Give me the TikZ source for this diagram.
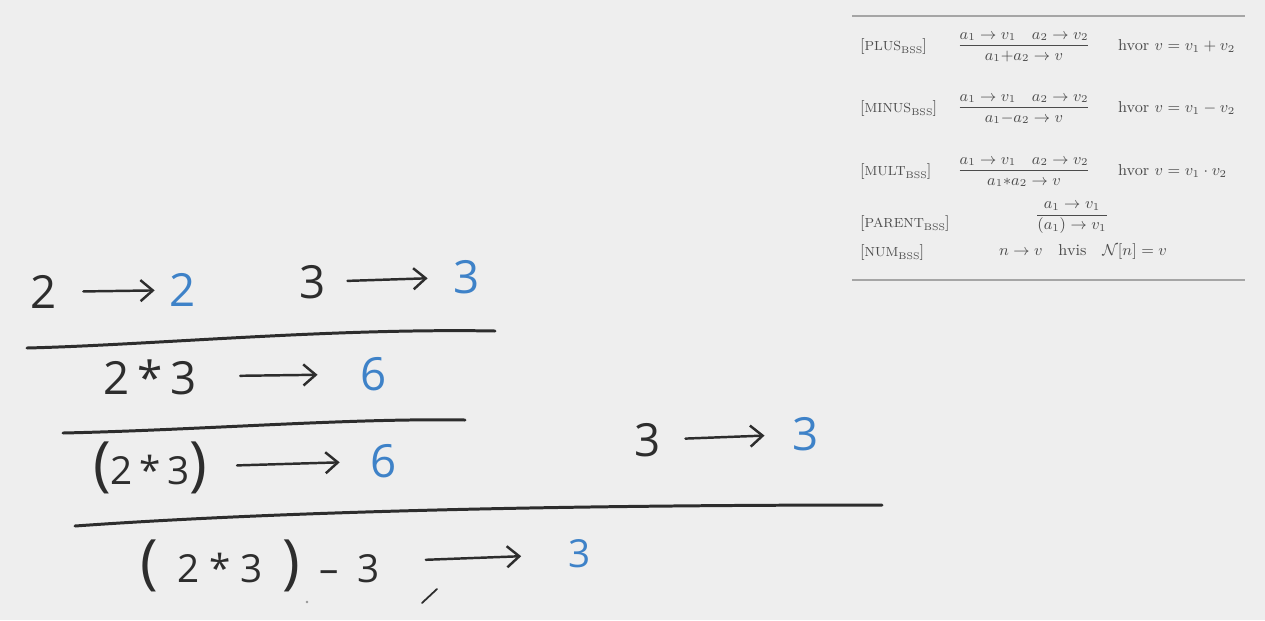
\documentclass[tikz,border=0pt]{standalone}
\usepackage{fontspec}
\usepackage{amsmath}
\newfontfamily\handfont{Open Sans}
\usetikzlibrary{arrows.meta, positioning}
\definecolor{ink}{RGB}{45,45,45}
\definecolor{handblue}{RGB}{62,130,200}
\definecolor{paper}{RGB}{238,238,238}
\definecolor{rulegray}{RGB}{165,165,165}
\newcommand{\bsslabel}[1]{[{\fontsize{7.5}{8}\selectfont #1\raisebox{-0.45ex}{\fontsize{5.5}{6}\selectfont BSS}}]}
\newcommand{\bigpar}[1]{{\fontsize{34}{34}\selectfont #1}}

\begin{document}
\begin{tikzpicture}[x=0.02cm, y=-0.02cm,
  expr/.style={font=\handfont\fontsize{26}{26}\selectfont, text=ink, inner sep=2pt},
  smallexpr/.style={expr, font=\handfont\fontsize{22}{22}\selectfont},
  val/.style={expr, text=handblue},
  eval/.style={draw=ink, line width=1.4pt, line cap=round, -{Straight Barb[length=7pt, width=12pt, line width=1.4pt]}},
  bar/.style={draw=ink, line width=1.7pt, line cap=round},
  rulename/.style={font=\fontsize{9}{10}\selectfont, text=ink!85, anchor=west, inner sep=1pt},
  premise/.style={font=\fontsize{9}{10}\selectfont, text=ink!85, inner sep=1pt}
]
  \useasboundingbox (0,0) rectangle (1265,620);
  \fill[paper] (0,0) rectangle (1265,620);

  % Rules table
  \draw[rulegray, line width=1.2pt] (852,16) -- (1245,16);
  \draw[rulegray, line width=1.2pt] (852,280) -- (1245,280);

  \node[rulename] (lplus) at (858,47) {\bsslabel{PLUS}};
  \node[premise] (fplus) at (1024,47) {$\dfrac{a_1 \to v_1 \quad a_2 \to v_2}{a_1{+}a_2 \to v}$};
  \node[premise, anchor=west] (cplus) at (1116,46) {hvor $v = v_1 + v_2$};

  \node[rulename] (lminus) at (858,109) {\bsslabel{MINUS}};
  \node[premise] (fminus) at (1024,109) {$\dfrac{a_1 \to v_1 \quad a_2 \to v_2}{a_1{-}a_2 \to v}$};
  \node[premise, anchor=west] (cminus) at (1116,108) {hvor $v = v_1 - v_2$};

  \node[rulename] (lmult) at (858,172) {\bsslabel{MULT}};
  \node[premise] (fmult) at (1024,172) {$\dfrac{a_1 \to v_1 \quad a_2 \to v_2}{a_1{\ast}a_2 \to v}$};
  \node[premise, anchor=west] (cmult) at (1116,171) {hvor $v = v_1 \cdot v_2$};

  \node[rulename] (lparent) at (858,224) {\bsslabel{PARENT}};
  \node[premise] (fparent) at (1072,218) {$\dfrac{a_1 \to v_1}{(a_1) \to v_1}$};

  \node[rulename] (lnum) at (858,253) {\bsslabel{NUM}};
  \node[premise] (fnum) at (1083,252) {$n \to v \quad \text{hvis} \quad \mathcal{N}[n] = v$};

  % Derivation: leaves
  \node[expr] (two) at (44,292) {2};
  \node[val] (twoval) at (183,290) {2};
  \node[expr] (three) at (313,282) {3};
  \node[val] (threeval) at (467,277) {3};
  \draw[eval, shorten <=12.8pt, shorten >=6.5pt] (two) -- (twoval);
  \draw[eval, shorten <=10pt, shorten >=12.8pt] (three) -- (threeval);

  \draw[bar] (27,348) .. controls (150,345) and (330,328) .. (495,331);

  % Multiplication
  \node[expr] (mult) at (150,377) {2\,*\,3};
  \node[val] (multval) at (374,374) {6};
  \draw[eval, shorten <=22.8pt, shorten >=22.5pt] (mult) -- (multval);

  \draw[bar] (63,433) .. controls (200,430) and (350,418) .. (465,420);

  % Parentheses
  \node[smallexpr] (paren) at (150,468) {\bigpar{(}2\,*\,3\bigpar{)}};
  \node[val] (parenval) at (384,461) {6};
  \draw[eval, shorten <=15pt, shorten >=15.6pt] (paren) -- (parenval);

  \node[expr] (threeb) at (648,440) {3};
  \node[val] (threebval) at (806,434) {3};
  \draw[eval, shorten <=11.7pt, shorten >=14pt] (threeb) -- (threebval);

  \draw[bar] (75,526) .. controls (300,510) and (600,505) .. (882,505);

  % Subtraction
  \node[smallexpr] (minus) at (260,566) {\bigpar{(}\enspace2 * 3\enspace\bigpar{)}\enspace–\enspace3};
  \node[val, font=\handfont\fontsize{22}{22}\selectfont] (minusval) at (580,554) {3};
  \draw[eval, shorten <=24pt, shorten >=25pt] (minus) -- (minusval);

  % stray pen marks
  \draw[ink, line width=1pt, line cap=round] (422,603) -- (437,589);
  \fill[ink!50] (307,602) circle (0.8pt);
\end{tikzpicture}
\end{document}
